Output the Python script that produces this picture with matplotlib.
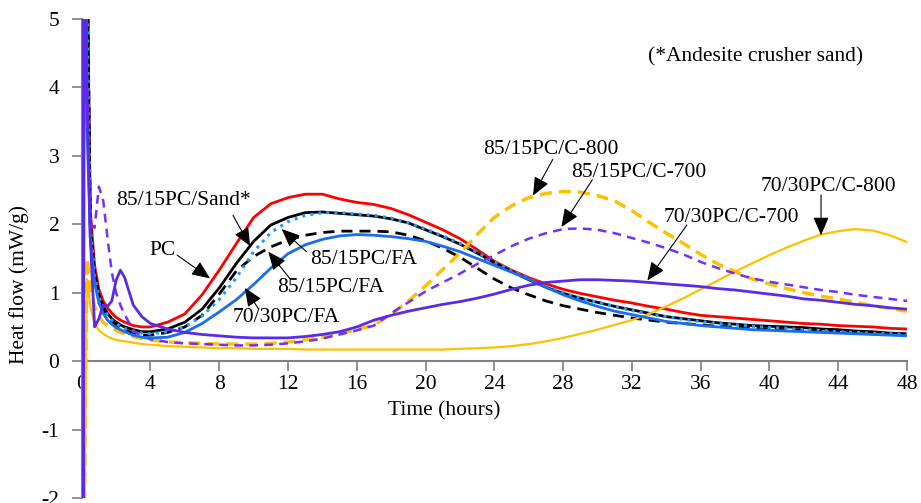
import matplotlib
matplotlib.use("Agg")
import matplotlib.pyplot as plt

plt.rcParams['font.family'] = ['Liberation Serif', 'DejaVu Serif']
plt.rcParams['axes.unicode_minus'] = False

hours = [0, 0.05, 0.1, 0.15, 0.2, 0.3, 0.5, 0.75, 1, 1.25, 1.5, 1.75, 2, 2.25, 2.5, 3, 3.5, 4,
         5, 6, 7, 8, 9, 10, 11, 12, 13, 14, 15, 16, 17,
         18, 19, 20, 21, 22, 23, 24, 25, 26, 27, 28, 29, 30, 31, 32, 33,
         34, 35, 36, 37, 38, 39, 40, 41, 42, 43, 44, 45, 46, 47, 48]

pc = [0, 3, 9, 9, 9, 6, 2.2, 1.4, 1.05, 0.88, 0.78, 0.70, 0.64, 0.60, 0.57, 0.52, 0.50, 0.50,
      0.57, 0.69, 0.97, 1.33, 1.72, 2.10, 2.30, 2.39, 2.44, 2.44, 2.37, 2.32, 2.29,
      2.23, 2.14, 2.03, 1.92, 1.79, 1.63, 1.46, 1.33, 1.22, 1.13, 1.05, 0.99, 0.94, 0.89, 0.85, 0.80,
      0.76, 0.71, 0.67, 0.65, 0.63, 0.61, 0.59, 0.57, 0.55, 0.54, 0.52, 0.51, 0.50, 0.48, 0.47]
sand15 = [0, 3, 9, 9, 9, 6.2, 2.0, 1.3, 0.98, 0.80, 0.70, 0.62, 0.57, 0.53, 0.50, 0.46, 0.43, 0.43,
          0.47, 0.57, 0.76, 1.07, 1.43, 1.75, 1.99, 2.10, 2.17, 2.18, 2.16, 2.14, 2.12,
          2.08, 2.02, 1.92, 1.82, 1.71, 1.58, 1.44, 1.31, 1.19, 1.08, 0.99, 0.92, 0.86, 0.80, 0.75, 0.70,
          0.65, 0.62, 0.59, 0.56, 0.54, 0.52, 0.51, 0.50, 0.49, 0.47, 0.46, 0.44, 0.43, 0.41, 0.40]
fa15_dot = [0, 3, 9, 9, 9, 5.5, 2.0, 1.25, 0.95, 0.78, 0.68, 0.60, 0.55, 0.51, 0.48, 0.44, 0.41, 0.40,
            0.43, 0.50, 0.66, 0.90, 1.22, 1.60, 1.88, 2.04, 2.13, 2.17, 2.17, 2.15, 2.13,
            2.09, 2.02, 1.93, 1.83, 1.72, 1.59, 1.45, 1.32, 1.20, 1.09, 1.00, 0.92, 0.86, 0.80, 0.74, 0.69,
            0.65, 0.61, 0.58, 0.55, 0.53, 0.51, 0.49, 0.48, 0.46, 0.45, 0.43, 0.42, 0.41, 0.40, 0.39]
fa15_dash = [0, 3, 9, 9, 9, 6.5, 2.0, 1.25, 0.95, 0.77, 0.66, 0.58, 0.53, 0.49, 0.46, 0.41, 0.38, 0.38,
             0.42, 0.50, 0.67, 0.98, 1.32, 1.53, 1.67, 1.77, 1.84, 1.88, 1.90, 1.90, 1.90,
             1.89, 1.84, 1.76, 1.65, 1.52, 1.36, 1.20, 1.07, 0.97, 0.88, 0.81, 0.76, 0.71, 0.67, 0.63, 0.60,
             0.57, 0.55, 0.53, 0.51, 0.50, 0.49, 0.47, 0.46, 0.45, 0.44, 0.43, 0.42, 0.41, 0.40, 0.39]
fa30 = [-3, 9, -3, 9, 8, 3.5, 1.8, 1.15, 0.85, 0.70, 0.60, 0.54, 0.49, 0.46, 0.43, 0.38, 0.35, 0.34,
        0.35, 0.42, 0.55, 0.72, 0.90, 1.12, 1.36, 1.57, 1.70, 1.78, 1.83, 1.85, 1.84,
        1.82, 1.79, 1.75, 1.68, 1.60, 1.50, 1.40, 1.30, 1.20, 1.08, 0.97, 0.88, 0.80, 0.73, 0.68, 0.63,
        0.58, 0.55, 0.52, 0.50, 0.48, 0.46, 0.45, 0.44, 0.43, 0.42, 0.41, 0.40, 0.39, 0.38, 0.37]
c800_15 = [0, 0, -3, -3, -1, 1.5, 1.1, 0.8, 0.65, 0.57, 0.52, 0.48, 0.45, 0.42, 0.40, 0.36, 0.33, 0.31,
           0.28, 0.27, 0.26, 0.25, 0.25, 0.25, 0.26, 0.28, 0.31, 0.35, 0.40, 0.46, 0.53,
           0.68, 0.88, 1.10, 1.34, 1.58, 1.85, 2.10, 2.27, 2.39, 2.45, 2.48, 2.47, 2.42, 2.34, 2.20, 2.03,
           1.87, 1.72, 1.56, 1.42, 1.31, 1.20, 1.13, 1.06, 1.00, 0.95, 0.91, 0.86, 0.81, 0.77, 0.73]
c700_15 = [-3, 9, -3, 9, 8, 4.5, 2.0, 1.95, 2.55, 2.35, 1.80, 1.30, 1.00, 0.82, 0.68, 0.45, 0.36, 0.32,
           0.28, 0.26, 0.25, 0.24, 0.23, 0.23, 0.24, 0.26, 0.29, 0.33, 0.39, 0.45, 0.52,
           0.70, 0.86, 1.02, 1.15, 1.28, 1.42, 1.55, 1.68, 1.79, 1.87, 1.93, 1.94, 1.92, 1.87, 1.80, 1.73,
           1.65, 1.56, 1.45, 1.36, 1.28, 1.21, 1.16, 1.12, 1.08, 1.04, 1.01, 0.97, 0.94, 0.91, 0.88]
c700_30 = [-3, 9, -3, 9, 7, 4, 1.8, 0.5, 0.62, 0.82, 0.80, 0.88, 1.18, 1.33, 1.22, 0.82, 0.65, 0.55,
           0.47, 0.42, 0.39, 0.37, 0.35, 0.34, 0.34, 0.34, 0.36, 0.39, 0.43, 0.50, 0.60,
           0.67, 0.73, 0.78, 0.83, 0.87, 0.92, 0.98, 1.05, 1.11, 1.15, 1.17, 1.19, 1.19, 1.18, 1.17, 1.15,
           1.13, 1.11, 1.09, 1.06, 1.04, 1.01, 0.98, 0.95, 0.91, 0.89, 0.86, 0.83, 0.81, 0.78, 0.76]
c800_30 = [0, 0, -3, -3, -1.2, 1.2, 0.8, 0.55, 0.45, 0.40, 0.36, 0.33, 0.31, 0.30, 0.29, 0.27, 0.25, 0.24,
           0.22, 0.21, 0.20, 0.19, 0.19, 0.18, 0.18, 0.18, 0.17, 0.17, 0.17, 0.17, 0.17,
           0.17, 0.17, 0.17, 0.17, 0.18, 0.19, 0.20, 0.22, 0.25, 0.29, 0.34, 0.40, 0.46, 0.53, 0.60, 0.69,
           0.80, 0.92, 1.05, 1.18, 1.31, 1.43, 1.55, 1.66, 1.76, 1.85, 1.90, 1.93, 1.91, 1.84, 1.74]

x_ticks = list(range(0, 49, 4))
y_ticks = [-2, -1, 0, 1, 2, 3, 4, 5]

fig = plt.figure(figsize=(9.21, 5.03), dpi=100)
ax = fig.add_axes([0.0887, 0.0099, 0.8961, 0.9523])

ax.plot(hours, pc, color='#ff0000', lw=2.0, zorder=3)
ax.plot(hours, sand15, color='black', lw=2.0, zorder=3)
ax.plot(hours, fa15_dash, color='black', lw=2.0, dashes=(4, 2.5), zorder=3)
ax.plot(hours, fa15_dot, color='#1e9bff', lw=2.2, linestyle=':', zorder=3)
ax.plot(hours, c800_15, color='#ffc000', lw=2.5, dashes=(3.5, 2), zorder=3)
ax.plot(hours, c800_30, color='#ffc000', lw=1.6, zorder=3)
ax.plot(hours, c700_15, color='#7030ff', lw=1.8, dashes=(3.5, 2.5), zorder=3)
ax.plot(hours, fa30, color='#1a6cf0', lw=2.0, zorder=3)
ax.plot(hours, c700_30, color='#5a2ae8', lw=2.0, zorder=3)

ax.set_xlim(0, 48)
ax.set_ylim(-2, 5)
ax.spines['top'].set_visible(False)
ax.spines['right'].set_visible(False)
ax.spines['bottom'].set_position(('data', 0))
for s in ('left', 'bottom'):
    ax.spines[s].set_color('#808080')
    ax.spines[s].set_linewidth(1.5)
    ax.spines[s].set_zorder(2)
ax.set_xticks(x_ticks)
ax.set_yticks(y_ticks)
ax.tick_params(axis='both', direction='out', length=7, width=1.2, color='#808080',
               labelsize=15.5, labelcolor='black')
ax.tick_params(axis='y', pad=9)
ax.tick_params(axis='x', pad=3)

ax.text(21.1, -0.72, 'Time (hours)', fontsize=15.5, ha='center', va='center')
fig.text(19 / 921, 1 - 285 / 503, 'Heat flow (mW/g)', fontsize=15.5, rotation=90,
         ha='center', va='center')

arrow = dict(arrowstyle='-|>,head_length=0.7,head_width=0.3', color='black', lw=0.8,
             shrinkA=0, shrinkB=0, mutation_scale=16)
labels = [
    ('85/15PC/Sand*', (5.9, 2.35), (8.8, 2.13), (9.8, 1.68)),
    ('PC', (4.7, 1.62), (5.55, 1.55), (7.46, 1.21)),
    ('85/15PC/FA', (16.4, 1.49), (13.07, 1.6), (11.63, 1.93)),
    ('85/15PC/FA', (14.5, 1.07), (12.1, 1.21), (10.85, 1.6)),
    ('70/30PC/FA', (11.9, 0.64), (10.27, 0.77), (9.49, 1.07)),
    ('85/15PC/C-800', (27.3, 3.1), (27.4, 2.95), (26.25, 2.42)),
    ('85/15PC/C-700', (32.4, 2.75), (29.7, 2.65), (27.9, 1.96)),
    ('70/30PC/C-700', (37.8, 2.1), (35.2, 1.99), (32.9, 1.18)),
    ('70/30PC/C-800', (43.45, 2.55), (43.0, 2.43), (43.0, 1.84)),
]
for text, tpos, tail, head in labels:
    ax.text(tpos[0], tpos[1], text, fontsize=15.5, ha='center', va='center', zorder=5)
    ax.annotate('', xy=head, xytext=tail, arrowprops=arrow, zorder=5)

ax.text(39.2, 4.45, '(*Andesite crusher sand)', fontsize=15.5, ha='center', va='center')

fig.savefig('out.png', dpi=100)
